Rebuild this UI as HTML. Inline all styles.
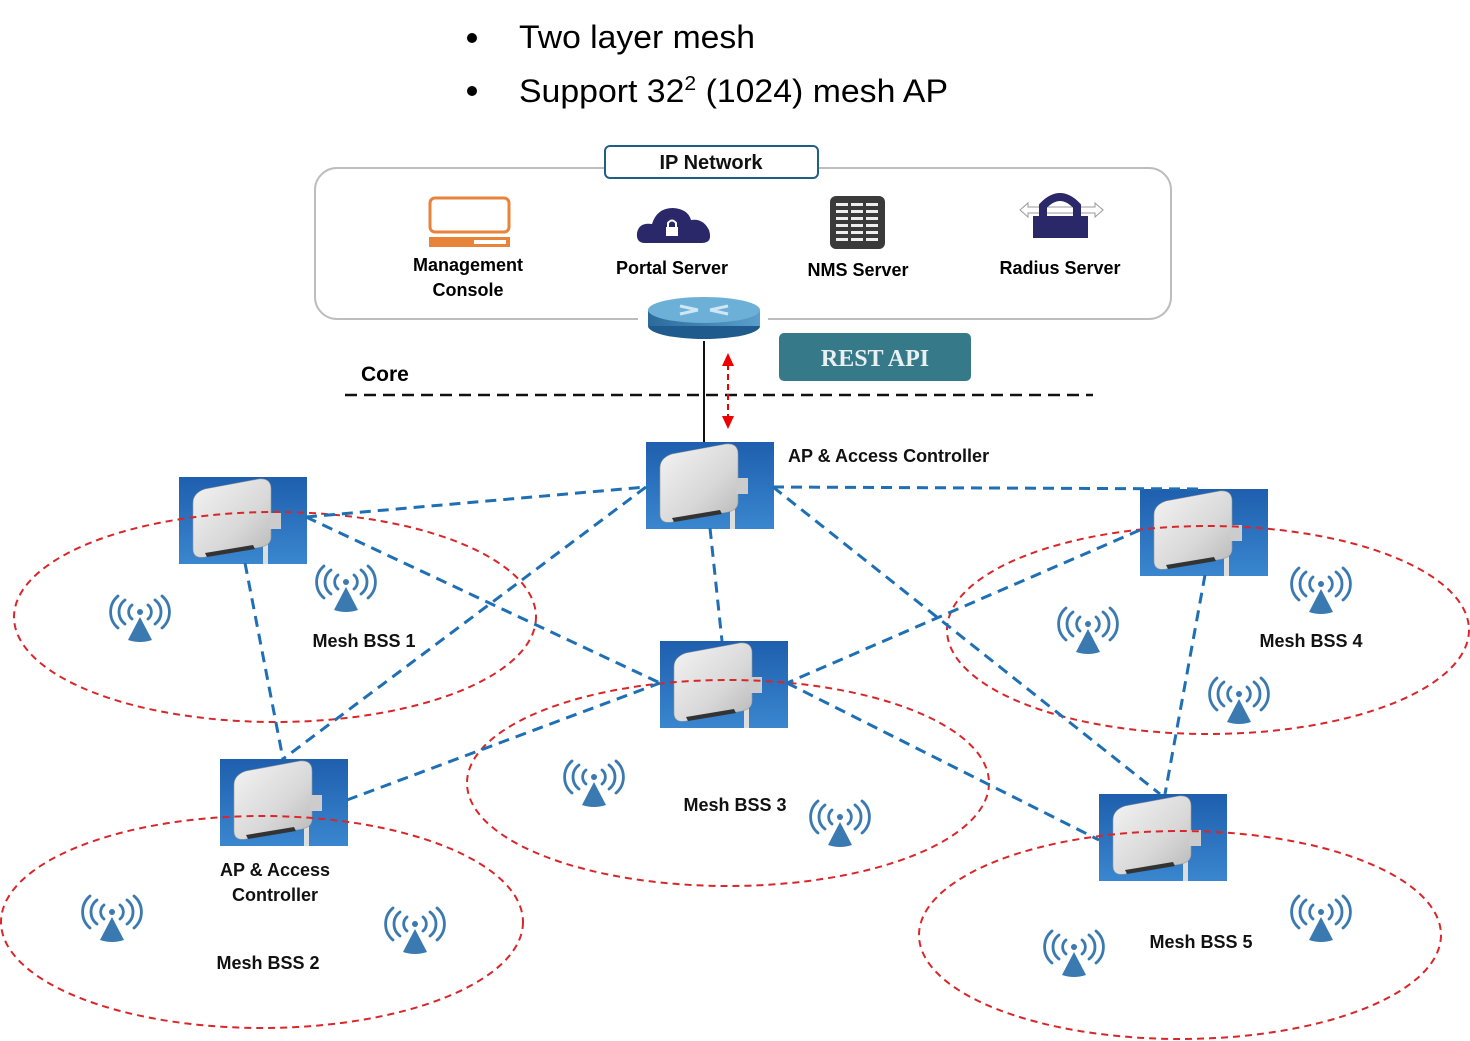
<!DOCTYPE html>
<html><head><meta charset="utf-8"><style>
html,body{margin:0;padding:0;background:#fff;}
svg{display:block;font-family:"Liberation Sans",sans-serif;}
</style></head><body>
<svg width="1470" height="1041" viewBox="0 0 1470 1041" xmlns="http://www.w3.org/2000/svg">
<defs>
<linearGradient id="sky" x1="0" y1="0" x2="0" y2="1"><stop offset="0" stop-color="#1e5fae"/><stop offset="1" stop-color="#3a86cf"/></linearGradient>
<linearGradient id="boxg" x1="0" y1="0" x2="1" y2="1"><stop offset="0" stop-color="#f4f4f4"/><stop offset="0.6" stop-color="#d8d8d8"/><stop offset="1" stop-color="#b8b8b8"/></linearGradient>
<linearGradient id="rt" x1="0" y1="0" x2="1" y2="0"><stop offset="0" stop-color="#2d6a9c"/><stop offset="1" stop-color="#5aa0cc"/></linearGradient>
<g id="ap">
<rect width="128" height="87" fill="url(#sky)"/>
<rect x="84" y="40" width="5" height="47" fill="#ddd"/>
<path d="M14 26 Q14 16 26 12 L80 2 Q92 1 92 12 L92 60 Q92 68 82 70 L26 80 Q14 82 14 72 Z" fill="url(#boxg)" stroke="#999" stroke-width="0.6"/>
<rect x="90" y="36" width="12" height="16" fill="#ccc"/>
<path d="M26 76 L74 68 L76 72 L28 80 Z" fill="#333"/>
</g>
<g id="ant" fill="none" stroke="#3a7ab0" stroke-width="2.8" stroke-linecap="round">
<circle cx="0" cy="-8" r="3" fill="#3a7ab0" stroke="none"/>
<path d="M-8 -15 A9 9 0 0 0 -8 -1 M8 -15 A9 9 0 0 1 8 -1"/>
<path d="M-15 -20 A15 15 0 0 0 -15 4 M15 -20 A15 15 0 0 1 15 4"/>
<path d="M-22 -24 A21 21 0 0 0 -22 8 M22 -24 A21 21 0 0 1 22 8"/>
<path d="M0 -3 L-12 20 Q0 24 12 20 Z" fill="#3a7ab0" stroke="none"/>
</g>
</defs>

<circle cx="472" cy="38" r="5" fill="#000"/>
<circle cx="472" cy="91" r="5" fill="#000"/>
<text x="519" y="48" font-size="32" textLength="236" lengthAdjust="spacingAndGlyphs">Two layer mesh</text>
<text x="519" y="102" font-size="32" textLength="429" lengthAdjust="spacingAndGlyphs">Support 32<tspan font-size="20" dy="-12">2</tspan><tspan dy="12"> (1024) mesh AP</tspan></text>

<rect x="315" y="168" width="856" height="151" rx="22" fill="#fff" stroke="#bdbdbd" stroke-width="2"/>
<rect x="605" y="146" width="213" height="32" rx="5" fill="#fff" stroke="#1f5f86" stroke-width="2"/>
<text x="711" y="169" font-size="20" text-anchor="middle" font-weight="bold" fill="#111">IP Network</text>

<rect x="430" y="198" width="79" height="34" rx="5" fill="#fff" stroke="#e8833a" stroke-width="3"/>
<rect x="429" y="237" width="81" height="10" fill="#e8833a"/>
<rect x="474" y="240" width="32" height="4" fill="#fff"/>
<text x="468" y="271" font-size="18" text-anchor="middle" font-weight="bold">Management</text>
<text x="468" y="296" font-size="18" text-anchor="middle" font-weight="bold">Console</text>
<path d="M645 243 Q636 243 637 233 Q639 222 652 224 Q657 208 673 208 Q688 209 691 220 Q703 218 709 230 Q713 243 702 243 Z" fill="#2a2868"/>
<rect x="666" y="227" width="12" height="9" fill="#fff"/>
<path d="M668 228 L668 223 Q672 218 676 223 L676 228" fill="none" stroke="#fff" stroke-width="2"/>
<text x="672" y="274" font-size="18" text-anchor="middle" font-weight="bold">Portal Server</text>
<rect x="830" y="196" width="55" height="53" rx="6" fill="#3a3a3a"/>
<g fill="#eee">
<rect x="836" y="203" width="12" height="3"/><rect x="851" y="203" width="12" height="3"/><rect x="866" y="203" width="12" height="3"/>
<rect x="836" y="210" width="12" height="3"/><rect x="851" y="210" width="12" height="3"/><rect x="866" y="210" width="12" height="3"/>
<rect x="836" y="217" width="12" height="3"/><rect x="851" y="217" width="12" height="3"/><rect x="866" y="217" width="12" height="3"/>
<rect x="836" y="224" width="12" height="3"/><rect x="851" y="224" width="12" height="3"/><rect x="866" y="224" width="12" height="3"/>
<rect x="836" y="231" width="12" height="3"/><rect x="851" y="231" width="12" height="3"/><rect x="866" y="231" width="12" height="3"/>
<rect x="836" y="238" width="12" height="3"/><rect x="851" y="238" width="12" height="3"/><rect x="866" y="238" width="12" height="3"/>
</g>
<text x="858" y="276" font-size="18" text-anchor="middle" font-weight="bold">NMS Server</text>
<path d="M1020 210 L1028 203 L1028 207 L1095 207 L1095 203 L1103 210 L1095 217 L1095 213 L1028 213 L1028 217 Z" fill="#fff" stroke="#999" stroke-width="1"/>
<path d="M1043 218 L1043 206 Q1060 188 1077 206 L1077 218" fill="none" stroke="#2a2868" stroke-width="8"/>
<rect x="1033" y="216" width="55" height="22" fill="#2a2868"/>
<text x="1060" y="274" font-size="18" text-anchor="middle" font-weight="bold">Radius Server</text>

<rect x="638" y="305" width="130" height="30" fill="#fff"/>
<ellipse cx="704" cy="326" rx="56" ry="13" fill="#1f5b8c"/>
<rect x="648" y="310" width="112" height="16" fill="url(#rt)"/>
<ellipse cx="704" cy="310" rx="56" ry="13" fill="#6cb0d8"/>
<path d="M680 306 L698 310 M680 314 L698 310 M728 306 L710 310 M728 314 L710 310" stroke="#cfe6f5" stroke-width="3"/>

<rect x="779" y="333" width="192" height="48" rx="5" fill="#367a89"/>
<text x="875" y="366" font-size="24" text-anchor="middle" font-weight="bold" fill="#e8f0f2" font-family="Liberation Serif,serif">REST API</text>

<text x="361" y="381" font-size="21" font-weight="bold">Core</text>
<line x1="345" y1="395" x2="1093" y2="395" stroke="#111" stroke-width="2.5" stroke-dasharray="12,7"/>
<line x1="704" y1="341" x2="704" y2="442" stroke="#111" stroke-width="2"/>
<line x1="728" y1="364" x2="728" y2="418" stroke="#e00" stroke-width="2" stroke-dasharray="6,4"/>
<path d="M722 366 L728 353 L734 366 Z M722 416 L728 429 L734 416 Z" fill="#e00"/>

<use href="#ap" x="179" y="477"/>
<use href="#ap" x="646" y="442"/>
<use href="#ap" x="1140" y="489"/>
<use href="#ap" x="660" y="641"/>
<use href="#ap" x="220" y="759"/>
<use href="#ap" x="1099" y="794"/>

<g fill="none" stroke="#d9262a" stroke-width="2" stroke-dasharray="7,5">
<ellipse cx="275" cy="617" rx="261" ry="105"/>
<ellipse cx="728" cy="783" rx="261" ry="103"/>
<ellipse cx="1208" cy="630" rx="261" ry="104"/>
<ellipse cx="262" cy="922" rx="261" ry="106"/>
<ellipse cx="1180" cy="935" rx="261" ry="104"/>
</g>

<g stroke="#1f6fb5" stroke-width="3" stroke-dasharray="11,7" fill="none">
<line x1="306" y1="517" x2="646" y2="487"/>
<line x1="306" y1="517" x2="660" y2="683"/>
<line x1="245" y1="563" x2="283" y2="759"/>
<line x1="646" y1="487" x2="283" y2="759"/>
<line x1="710" y1="528" x2="722" y2="641"/>
<line x1="773" y1="487" x2="1205" y2="489"/>
<line x1="773" y1="487" x2="1160" y2="794"/>
<line x1="1140" y1="530" x2="787" y2="683"/>
<line x1="1205" y1="575" x2="1165" y2="794"/>
<line x1="787" y1="683" x2="1099" y2="840"/>
<line x1="347" y1="800" x2="660" y2="683"/>
</g>

<use href="#ant" x="140" y="620"/>
<use href="#ant" x="346" y="590"/>
<use href="#ant" x="594" y="785"/>
<use href="#ant" x="840" y="825"/>
<use href="#ant" x="1088" y="632"/>
<use href="#ant" x="1321" y="592"/>
<use href="#ant" x="1239" y="702"/>
<use href="#ant" x="112" y="920"/>
<use href="#ant" x="415" y="932"/>
<use href="#ant" x="1074" y="955"/>
<use href="#ant" x="1321" y="920"/>

<g font-size="18" font-weight="bold" fill="#111">
<text x="788" y="462">AP &amp; Access Controller</text>
<text x="364" y="647" text-anchor="middle">Mesh BSS 1</text>
<text x="735" y="811" text-anchor="middle">Mesh BSS 3</text>
<text x="1311" y="647" text-anchor="middle">Mesh BSS 4</text>
<text x="275" y="876" text-anchor="middle">AP &amp; Access</text>
<text x="275" y="901" text-anchor="middle">Controller</text>
<text x="268" y="969" text-anchor="middle">Mesh BSS 2</text>
<text x="1201" y="948" text-anchor="middle">Mesh BSS 5</text>
</g>
</svg>
</body></html>
